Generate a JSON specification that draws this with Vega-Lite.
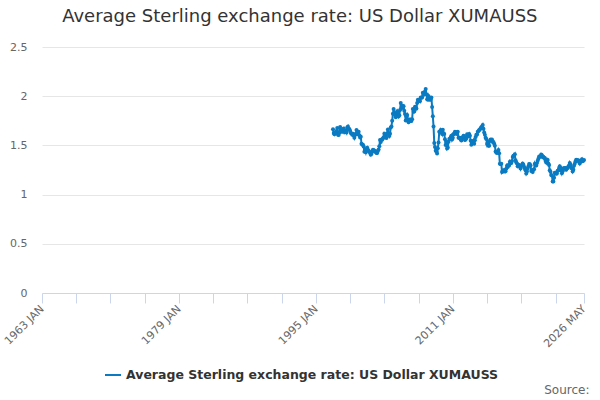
{
  "$schema": "https://vega.github.io/schema/vega-lite/v6.json",
  "autosize": "none",
  "width": 542,
  "height": 246,
  "padding": {"left": 42, "top": 47, "right": 16, "bottom": 107},
  "config": {
    "font": "DejaVu Sans",
    "view": {"stroke": null}
  },
  "title": {
    "text": "Average Sterling exchange rate: US Dollar XUMAUSS",
    "fontSize": 18,
    "fontWeight": "normal",
    "color": "#333333",
    "anchor": "start",
    "dx": 60,
    "offset": 1,
    "baseline": "alphabetic"
  },
  "data": {
    "format": {"parse": {"d": "utc:'%Y-%m'"}},
    "values": [
      {"d": "1997-01", "v": 1.664}, {"d": "1997-02", "v": 1.627}, {"d": "1997-03", "v": 1.613}, {"d": "1997-04", "v": 1.630},
      {"d": "1997-05", "v": 1.632}, {"d": "1997-06", "v": 1.647}, {"d": "1997-07", "v": 1.677}, {"d": "1997-08", "v": 1.607},
      {"d": "1997-09", "v": 1.605}, {"d": "1997-10", "v": 1.629}, {"d": "1997-11", "v": 1.688}, {"d": "1997-12", "v": 1.657},
      {"d": "1998-01", "v": 1.642}, {"d": "1998-02", "v": 1.638}, {"d": "1998-03", "v": 1.662}, {"d": "1998-04", "v": 1.671},
      {"d": "1998-05", "v": 1.635}, {"d": "1998-06", "v": 1.651}, {"d": "1998-07", "v": 1.647}, {"d": "1998-08", "v": 1.631},
      {"d": "1998-09", "v": 1.681}, {"d": "1998-10", "v": 1.693}, {"d": "1998-11", "v": 1.662}, {"d": "1998-12", "v": 1.667},
      {"d": "1999-01", "v": 1.650}, {"d": "1999-02", "v": 1.627}, {"d": "1999-03", "v": 1.622}, {"d": "1999-04", "v": 1.609},
      {"d": "1999-05", "v": 1.619}, {"d": "1999-06", "v": 1.602}, {"d": "1999-07", "v": 1.579}, {"d": "1999-08", "v": 1.606},
      {"d": "1999-09", "v": 1.618}, {"d": "1999-10", "v": 1.657}, {"d": "1999-11", "v": 1.617}, {"d": "1999-12", "v": 1.614},
      {"d": "2000-01", "v": 1.639}, {"d": "2000-02", "v": 1.604}, {"d": "2000-03", "v": 1.581}, {"d": "2000-04", "v": 1.588},
      {"d": "2000-05", "v": 1.516}, {"d": "2000-06", "v": 1.508}, {"d": "2000-07", "v": 1.507}, {"d": "2000-08", "v": 1.489},
      {"d": "2000-09", "v": 1.435}, {"d": "2000-10", "v": 1.454}, {"d": "2000-11", "v": 1.430}, {"d": "2000-12", "v": 1.463},
      {"d": "2001-01", "v": 1.477}, {"d": "2001-02", "v": 1.457}, {"d": "2001-03", "v": 1.446}, {"d": "2001-04", "v": 1.435},
      {"d": "2001-05", "v": 1.424}, {"d": "2001-06", "v": 1.405}, {"d": "2001-07", "v": 1.414}, {"d": "2001-08", "v": 1.438},
      {"d": "2001-09", "v": 1.457}, {"d": "2001-10", "v": 1.454}, {"d": "2001-11", "v": 1.442}, {"d": "2001-12", "v": 1.443},
      {"d": "2002-01", "v": 1.431}, {"d": "2002-02", "v": 1.423}, {"d": "2002-03", "v": 1.423}, {"d": "2002-04", "v": 1.444},
      {"d": "2002-05", "v": 1.459}, {"d": "2002-06", "v": 1.491}, {"d": "2002-07", "v": 1.555}, {"d": "2002-08", "v": 1.534},
      {"d": "2002-09", "v": 1.559}, {"d": "2002-10", "v": 1.557}, {"d": "2002-11", "v": 1.571}, {"d": "2002-12", "v": 1.584},
      {"d": "2003-01", "v": 1.619}, {"d": "2003-02", "v": 1.607}, {"d": "2003-03", "v": 1.582}, {"d": "2003-04", "v": 1.576},
      {"d": "2003-05", "v": 1.624}, {"d": "2003-06", "v": 1.662}, {"d": "2003-07", "v": 1.617}, {"d": "2003-08", "v": 1.595},
      {"d": "2003-09", "v": 1.618}, {"d": "2003-10", "v": 1.682}, {"d": "2003-11", "v": 1.693}, {"d": "2003-12", "v": 1.750},
      {"d": "2004-01", "v": 1.821}, {"d": "2004-02", "v": 1.869}, {"d": "2004-03", "v": 1.827}, {"d": "2004-04", "v": 1.810},
      {"d": "2004-05", "v": 1.786}, {"d": "2004-06", "v": 1.828}, {"d": "2004-07", "v": 1.846}, {"d": "2004-08", "v": 1.819},
      {"d": "2004-09", "v": 1.793}, {"d": "2004-10", "v": 1.807}, {"d": "2004-11", "v": 1.861}, {"d": "2004-12", "v": 1.930},
      {"d": "2005-01", "v": 1.878}, {"d": "2005-02", "v": 1.891}, {"d": "2005-03", "v": 1.903}, {"d": "2005-04", "v": 1.899},
      {"d": "2005-05", "v": 1.853}, {"d": "2005-06", "v": 1.818}, {"d": "2005-07", "v": 1.752}, {"d": "2005-08", "v": 1.795},
      {"d": "2005-09", "v": 1.809}, {"d": "2005-10", "v": 1.762}, {"d": "2005-11", "v": 1.736}, {"d": "2005-12", "v": 1.747},
      {"d": "2006-01", "v": 1.764}, {"d": "2006-02", "v": 1.747}, {"d": "2006-03", "v": 1.747}, {"d": "2006-04", "v": 1.765},
      {"d": "2006-05", "v": 1.870}, {"d": "2006-06", "v": 1.843}, {"d": "2006-07", "v": 1.845}, {"d": "2006-08", "v": 1.892},
      {"d": "2006-09", "v": 1.887}, {"d": "2006-10", "v": 1.875}, {"d": "2006-11", "v": 1.932}, {"d": "2006-12", "v": 1.964},
      {"d": "2007-01", "v": 1.959}, {"d": "2007-02", "v": 1.958}, {"d": "2007-03", "v": 1.948}, {"d": "2007-04", "v": 1.988},
      {"d": "2007-05", "v": 1.984}, {"d": "2007-06", "v": 1.987}, {"d": "2007-07", "v": 2.034}, {"d": "2007-08", "v": 2.014},
      {"d": "2007-09", "v": 2.019}, {"d": "2007-10", "v": 2.047}, {"d": "2007-11", "v": 2.072}, {"d": "2007-12", "v": 2.019},
      {"d": "2008-01", "v": 1.970}, {"d": "2008-02", "v": 1.964}, {"d": "2008-03", "v": 2.001}, {"d": "2008-04", "v": 1.979},
      {"d": "2008-05", "v": 1.963}, {"d": "2008-06", "v": 1.966}, {"d": "2008-07", "v": 1.988}, {"d": "2008-08", "v": 1.891},
      {"d": "2008-09", "v": 1.795}, {"d": "2008-10", "v": 1.691}, {"d": "2008-11", "v": 1.524}, {"d": "2008-12", "v": 1.485},
      {"d": "2009-01", "v": 1.446}, {"d": "2009-02", "v": 1.441}, {"d": "2009-03", "v": 1.418}, {"d": "2009-04", "v": 1.470},
      {"d": "2009-05", "v": 1.530}, {"d": "2009-06", "v": 1.638}, {"d": "2009-07", "v": 1.636}, {"d": "2009-08", "v": 1.656},
      {"d": "2009-09", "v": 1.632}, {"d": "2009-10", "v": 1.615}, {"d": "2009-11", "v": 1.660}, {"d": "2009-12", "v": 1.623},
      {"d": "2010-01", "v": 1.616}, {"d": "2010-02", "v": 1.563}, {"d": "2010-03", "v": 1.505}, {"d": "2010-04", "v": 1.535},
      {"d": "2010-05", "v": 1.468}, {"d": "2010-06", "v": 1.478}, {"d": "2010-07", "v": 1.536}, {"d": "2010-08", "v": 1.566},
      {"d": "2010-09", "v": 1.566}, {"d": "2010-10", "v": 1.583}, {"d": "2010-11", "v": 1.597}, {"d": "2010-12", "v": 1.560},
      {"d": "2011-01", "v": 1.578}, {"d": "2011-02", "v": 1.615}, {"d": "2011-03", "v": 1.616}, {"d": "2011-04", "v": 1.639},
      {"d": "2011-05", "v": 1.635}, {"d": "2011-06", "v": 1.622}, {"d": "2011-07", "v": 1.616}, {"d": "2011-08", "v": 1.639},
      {"d": "2011-09", "v": 1.578}, {"d": "2011-10", "v": 1.577}, {"d": "2011-11", "v": 1.579}, {"d": "2011-12", "v": 1.559},
      {"d": "2012-01", "v": 1.551}, {"d": "2012-02", "v": 1.579}, {"d": "2012-03", "v": 1.583}, {"d": "2012-04", "v": 1.599},
      {"d": "2012-05", "v": 1.591}, {"d": "2012-06", "v": 1.555}, {"d": "2012-07", "v": 1.560}, {"d": "2012-08", "v": 1.572},
      {"d": "2012-09", "v": 1.613}, {"d": "2012-10", "v": 1.609}, {"d": "2012-11", "v": 1.596}, {"d": "2012-12", "v": 1.615},
      {"d": "2013-01", "v": 1.597}, {"d": "2013-02", "v": 1.547}, {"d": "2013-03", "v": 1.507}, {"d": "2013-04", "v": 1.531},
      {"d": "2013-05", "v": 1.528}, {"d": "2013-06", "v": 1.548}, {"d": "2013-07", "v": 1.517}, {"d": "2013-08", "v": 1.552},
      {"d": "2013-09", "v": 1.586}, {"d": "2013-10", "v": 1.609}, {"d": "2013-11", "v": 1.610}, {"d": "2013-12", "v": 1.638},
      {"d": "2014-01", "v": 1.647}, {"d": "2014-02", "v": 1.657}, {"d": "2014-03", "v": 1.662}, {"d": "2014-04", "v": 1.675},
      {"d": "2014-05", "v": 1.684}, {"d": "2014-06", "v": 1.692}, {"d": "2014-07", "v": 1.708}, {"d": "2014-08", "v": 1.670},
      {"d": "2014-09", "v": 1.631}, {"d": "2014-10", "v": 1.609}, {"d": "2014-11", "v": 1.577}, {"d": "2014-12", "v": 1.566},
      {"d": "2015-01", "v": 1.514}, {"d": "2015-02", "v": 1.533}, {"d": "2015-03", "v": 1.496}, {"d": "2015-04", "v": 1.497},
      {"d": "2015-05", "v": 1.545}, {"d": "2015-06", "v": 1.559}, {"d": "2015-07", "v": 1.554}, {"d": "2015-08", "v": 1.559},
      {"d": "2015-09", "v": 1.534}, {"d": "2015-10", "v": 1.534}, {"d": "2015-11", "v": 1.516}, {"d": "2015-12", "v": 1.497},
      {"d": "2016-01", "v": 1.437}, {"d": "2016-02", "v": 1.429}, {"d": "2016-03", "v": 1.424}, {"d": "2016-04", "v": 1.431},
      {"d": "2016-05", "v": 1.452}, {"d": "2016-06", "v": 1.421}, {"d": "2016-07", "v": 1.313}, {"d": "2016-08", "v": 1.310},
      {"d": "2016-09", "v": 1.313}, {"d": "2016-10", "v": 1.230}, {"d": "2016-11", "v": 1.243}, {"d": "2016-12", "v": 1.248},
      {"d": "2017-01", "v": 1.236}, {"d": "2017-02", "v": 1.249}, {"d": "2017-03", "v": 1.237}, {"d": "2017-04", "v": 1.263},
      {"d": "2017-05", "v": 1.294}, {"d": "2017-06", "v": 1.280}, {"d": "2017-07", "v": 1.300}, {"d": "2017-08", "v": 1.295},
      {"d": "2017-09", "v": 1.333}, {"d": "2017-10", "v": 1.319}, {"d": "2017-11", "v": 1.322}, {"d": "2017-12", "v": 1.341},
      {"d": "2018-01", "v": 1.382}, {"d": "2018-02", "v": 1.396}, {"d": "2018-03", "v": 1.397}, {"d": "2018-04", "v": 1.409},
      {"d": "2018-05", "v": 1.348}, {"d": "2018-06", "v": 1.328}, {"d": "2018-07", "v": 1.317}, {"d": "2018-08", "v": 1.289},
      {"d": "2018-09", "v": 1.301}, {"d": "2018-10", "v": 1.300}, {"d": "2018-11", "v": 1.289}, {"d": "2018-12", "v": 1.265},
      {"d": "2019-01", "v": 1.291}, {"d": "2019-02", "v": 1.302}, {"d": "2019-03", "v": 1.317}, {"d": "2019-04", "v": 1.304},
      {"d": "2019-05", "v": 1.284}, {"d": "2019-06", "v": 1.266}, {"d": "2019-07", "v": 1.248}, {"d": "2019-08", "v": 1.215},
      {"d": "2019-09", "v": 1.234}, {"d": "2019-10", "v": 1.265}, {"d": "2019-11", "v": 1.287}, {"d": "2019-12", "v": 1.312},
      {"d": "2020-01", "v": 1.308}, {"d": "2020-02", "v": 1.297}, {"d": "2020-03", "v": 1.240}, {"d": "2020-04", "v": 1.240},
      {"d": "2020-05", "v": 1.229}, {"d": "2020-06", "v": 1.252}, {"d": "2020-07", "v": 1.257}, {"d": "2020-08", "v": 1.313},
      {"d": "2020-09", "v": 1.296}, {"d": "2020-10", "v": 1.297}, {"d": "2020-11", "v": 1.320}, {"d": "2020-12", "v": 1.345},
      {"d": "2021-01", "v": 1.365}, {"d": "2021-02", "v": 1.386}, {"d": "2021-03", "v": 1.387}, {"d": "2021-04", "v": 1.384},
      {"d": "2021-05", "v": 1.408}, {"d": "2021-06", "v": 1.401}, {"d": "2021-07", "v": 1.381}, {"d": "2021-08", "v": 1.384},
      {"d": "2021-09", "v": 1.373}, {"d": "2021-10", "v": 1.371}, {"d": "2021-11", "v": 1.344}, {"d": "2021-12", "v": 1.326},
      {"d": "2022-01", "v": 1.357}, {"d": "2022-02", "v": 1.352}, {"d": "2022-03", "v": 1.317}, {"d": "2022-04", "v": 1.300},
      {"d": "2022-05", "v": 1.247}, {"d": "2022-06", "v": 1.232}, {"d": "2022-07", "v": 1.199}, {"d": "2022-08", "v": 1.194},
      {"d": "2022-09", "v": 1.134}, {"d": "2022-10", "v": 1.132}, {"d": "2022-11", "v": 1.172}, {"d": "2022-12", "v": 1.222},
      {"d": "2023-01", "v": 1.223}, {"d": "2023-02", "v": 1.212}, {"d": "2023-03", "v": 1.215}, {"d": "2023-04", "v": 1.243},
      {"d": "2023-05", "v": 1.245}, {"d": "2023-06", "v": 1.267}, {"d": "2023-07", "v": 1.287}, {"d": "2023-08", "v": 1.271},
      {"d": "2023-09", "v": 1.247}, {"d": "2023-10", "v": 1.217}, {"d": "2023-11", "v": 1.238}, {"d": "2023-12", "v": 1.264},
      {"d": "2024-01", "v": 1.270}, {"d": "2024-02", "v": 1.263}, {"d": "2024-03", "v": 1.271}, {"d": "2024-04", "v": 1.252},
      {"d": "2024-05", "v": 1.264}, {"d": "2024-06", "v": 1.271}, {"d": "2024-07", "v": 1.285}, {"d": "2024-08", "v": 1.295},
      {"d": "2024-09", "v": 1.322}, {"d": "2024-10", "v": 1.305}, {"d": "2024-11", "v": 1.272}, {"d": "2024-12", "v": 1.264},
      {"d": "2025-01", "v": 1.236}, {"d": "2025-02", "v": 1.253}, {"d": "2025-03", "v": 1.292}, {"d": "2025-04", "v": 1.313},
      {"d": "2025-05", "v": 1.336}, {"d": "2025-06", "v": 1.354}, {"d": "2025-07", "v": 1.351}, {"d": "2025-08", "v": 1.343},
      {"d": "2025-09", "v": 1.350}, {"d": "2025-10", "v": 1.335}, {"d": "2025-11", "v": 1.315}, {"d": "2025-12", "v": 1.335},
      {"d": "2026-01", "v": 1.345}, {"d": "2026-02", "v": 1.360}, {"d": "2026-03", "v": 1.340}, {"d": "2026-04", "v": 1.345},
      {"d": "2026-05", "v": 1.352}
    ]
  },
  "mark": {
    "type": "line",
    "strokeWidth": 2,
    "point": {"filled": true, "size": 16}
  },
  "encoding": {
    "x": {
      "field": "d",
      "type": "temporal",
      "title": "Source:",
      "scale": {
        "type": "utc",
        "domain": [
          {"year": 1963, "month": 1, "date": 1, "utc": true},
          {"year": 2026, "month": 5, "date": 1, "utc": true}
        ]
      },
      "axis": {
        "values": [
          {"year": 1963, "month": 1, "date": 1, "utc": true},
          {"year": 1967, "month": 1, "date": 1, "utc": true},
          {"year": 1971, "month": 1, "date": 1, "utc": true},
          {"year": 1975, "month": 1, "date": 1, "utc": true},
          {"year": 1979, "month": 1, "date": 1, "utc": true},
          {"year": 1983, "month": 1, "date": 1, "utc": true},
          {"year": 1987, "month": 1, "date": 1, "utc": true},
          {"year": 1991, "month": 1, "date": 1, "utc": true},
          {"year": 1995, "month": 1, "date": 1, "utc": true},
          {"year": 1999, "month": 1, "date": 1, "utc": true},
          {"year": 2003, "month": 1, "date": 1, "utc": true},
          {"year": 2007, "month": 1, "date": 1, "utc": true},
          {"year": 2011, "month": 1, "date": 1, "utc": true},
          {"year": 2015, "month": 1, "date": 1, "utc": true},
          {"year": 2019, "month": 1, "date": 1, "utc": true},
          {"year": 2023, "month": 1, "date": 1, "utc": true},
          {"year": 2026, "month": 5, "date": 1, "utc": true}
        ],
        "labelExpr": "indexof(['1963-01','1979-01','1995-01','2011-01','2026-05'], utcFormat(datum.value, '%Y-%m')) >= 0 ? upper(utcFormat(datum.value, '%Y %b')) : ''",
        "labelOverlap": false,
        "labelAngle": -45,
        "labelAlign": "right",
        "labelBaseline": "middle",
        "labelFontSize": 11,
        "labelColor": "#666666",
        "labelPadding": 4,
        "labelBound": false,
        "labelFlush": false,
        "domainColor": "#ccd6eb",
        "tickColor": "#ccd6eb",
        "tickSize": 10,
        "grid": false,
        "titleFontSize": 12,
        "titleFontWeight": "normal",
        "titleColor": "#666666",
        "titleAlign": "right",
        "titleAnchor": null,
        "titleBaseline": "alphabetic",
        "titleX": 547,
        "titleY": 100
      }
    },
    "y": {
      "field": "v",
      "type": "quantitative",
      "title": null,
      "scale": {"domain": [0, 2.5], "nice": false, "zero": true},
      "axis": {
        "values": [0, 0.5, 1, 1.5, 2, 2.5],
        "format": "~g",
        "domain": false,
        "ticks": false,
        "gridColor": "#e6e6e6",
        "labelFontSize": 11,
        "labelColor": "#666666",
        "labelPadding": 15
      }
    },
    "color": {
      "datum": "Average Sterling exchange rate: US Dollar XUMAUSS",
      "type": "nominal",
      "scale": {"range": ["#0a7bc2"]},
      "legend": {
        "title": null,
        "orient": "none",
        "legendX": 62,
        "legendY": 319,
        "symbolType": "stroke",
        "symbolSize": 256,
        "symbolStrokeWidth": 2,
        "labelFontSize": 12.5,
        "labelFontWeight": "bold",
        "labelColor": "#333333",
        "labelLimit": 500,
        "labelOffset": 4
      }
    }
  }
}
